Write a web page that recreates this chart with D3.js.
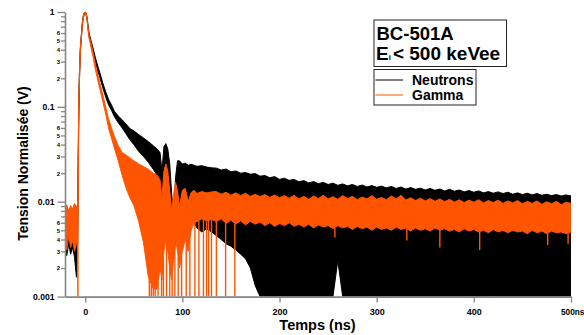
<!DOCTYPE html>
<html><head><meta charset="utf-8">
<script src="https://cdn.jsdelivr.net/npm/d3@7"></script>
<style>
body{margin:0;background:#fff}
svg{display:block}
text{font-family:"Liberation Sans",Arial,Helvetica,sans-serif;font-weight:bold;fill:#000}
</style>
</head><body><svg id="c" width="584" height="335"></svg>
<script>
// ---- data (time in ns, normalised voltage) ----
const times = [
 -21,-19,-17,-15,-13,-11,-9,-8,
 -7.5,-7,-6.5,-6,
 -5,-4,-3,-2,-1,0,1,2,3,4,
 6,8,10,12,
 15,18,21,24,27,30,
 34,38,42,46,50,
 55,60,65,70,
 74,77,79,81,83,85,87,89,91,93,95,97,
 100,103,106,109,112,115,
 120,125,130,
 135,140,145,150,155,160,165,170,175,180,185,190,195,200,205,210,215,220,225,230,235,240,245,250,255,
 260,265,270,275,280,285,290,295,300,305,310,315,320,325,330,335,340,345,350,355,360,365,370,375,380,
 385,390,395,400,405,410,415,420,425,430,435,440,445,450,455,460,465,470,475,480,485,490,495,500
];
const neutronHigh = [
 .0080,.0089,.0076,.0087,.0081,.0091,.0085,.0090,
 .012,.05,.13,.22,
 .42,.57,.77,.91,.985,1.0,.975,.87,.71,.60,
 .50,.42,.345,.29,
 .23,.18,.145,.12,.105,.09,
 .08,.073,.066,.059,.056,
 .051,.047,.043,.039,
 .036,.033,.021,.038,.041,.036,.025,.012,.0075,.018,.027,.027,
 .025,.0255,.0242,.0248,.0242,.0236,
 .024,.0232,.0228,
 .0226,.0216,.0221,.0207,.0211,.0200,.0203,.0195,.0198,.0186,.0189,.0179,.0184,.0172,.0177,.0168,.0172,.0162,.0167,.0158,.0163,.0155,.0160,.0152,.0157,
 .0149,.0154,.0147,.0152,.0145,.0150,.0143,.0148,.0142,.0146,.0140,.0145,.0138,.0143,.0136,.0141,.0135,.0139,.0133,.0138,.0132,.0136,.0130,.0135,.0129,
 .0133,.0127,.0131,.0126,.0130,.0124,.0128,.0123,.0127,.0122,.0126,.0120,.0124,.0119,.0123,.0118,.0122,.0117,.0120,.0116,.0119,.0115,.0118,.0115
];
const neutronLow = [
 .0030,.0027,.0036,.0028,.0033,.0026,.0016,.0035,
 .006,.035,.1,.18,
 .38,.52,.72,.86,.95,.97,.93,.82,.66,.55,
 .45,.38,.31,.26,
 .205,.16,.128,.105,.092,.079,
 .068,.06,.052,.045,.040,
 .034,.030,.026,.022,
 .019,.016,.007,.014,.018,.014,.007,.003,.0025,.004,.006,.007,
 .0082,.0076,.0072,.0068,.006,.0053,
 .0048,.0052,.0048,
 .0044,.0040,.0036,.0034,.0031,.0028,.0025,.0020,.0013,.001,.001,.001,.001,.001,.001,.001,.001,.001,.001,.001,.001,.001,.001,.001,.001,
 .0024,.001,.001,.001,.001,.001,.001,.001,.001,.001,.001,.001,.001,.001,.001,.001,.001,.001,.001,.001,.001,.001,.001,.001,.001,
 .001,.001,.001,.001,.001,.001,.001,.001,.001,.001,.001,.001,.001,.001,.001,.001,.001,.001,.001,.001,.001,.001,.001,.001
];
const gammaHigh = [
 .0085,.0093,.0079,.0091,.0084,.0096,.0088,.0092,
 .012,.05,.13,.22,
 .42,.56,.76,.90,.98,1.0,.97,.85,.68,.57,
 .47,.38,.30,.24,
 .18,.135,.10,.075,.06,.049,
 .039,.033,.031,.029,.027,
 .025,.0235,.022,.020,
 .019,.017,.011,.021,.025,.021,.013,.008,.012,.016,.013,.009,
 .0132,.0138,.010,.0125,.0132,.0122,
 .0128,.0124,.0127,
 .0128,.0120,.0126,.0117,.0124,.0116,.0123,.0114,.0120,.0113,.0119,.0111,.0118,.0110,.0116,.0109,.0117,.0107,.0114,.0106,.0115,.0108,.0117,.0107,.0113,
 .0106,.0116,.0108,.0114,.0105,.0112,.0107,.0116,.0106,.0111,.0105,.0115,.0107,.0117,.0104,.0110,.0103,.0109,.0102,.0108,.0101,.0107,.0100,.0106,.0099,
 .0105,.0098,.0104,.0099,.0105,.0097,.0103,.0098,.0104,.0096,.0102,.0097,.0103,.0095,.0101,.0096,.0102,.0094,.0100,.0095,.0101,.0093,.0099,.0096
];
const gammaLow = [
 .0040,.0031,.0044,.0033,.0039,.0030,.0036,.0040,
 .001,.03,.1,.18,
 .38,.52,.72,.86,.95,.97,.92,.80,.63,.53,
 .42,.34,.26,.21,
 .155,.115,.085,.06,.047,.037,
 .027,.019,.014,.011,.0092,
 .0062,.0037,.0016,.0012,
 .0012,.002,.0015,.003,.004,.003,.002,.0015,.0025,.004,.003,.002,
 .003,.004,.003,.005,.006,.0062,
 .0066,.0063,.0065,
 .0062,.0066,.0059,.0064,.0058,.0063,.0057,.0062,.0058,.0061,.0056,.0060,.0055,.0059,.0056,.0060,.0055,.0058,.0054,.0058,.0053,.0057,.0054,.0056,.0052,
 .0056,.0053,.0055,.0051,.0055,.0052,.0054,.0050,.0054,.0051,.0053,.0050,.0054,.0051,.0053,.0049,.0053,.0050,.0052,.0049,.0053,.0050,.0052,.0049,.0051,
 .0048,.0052,.0049,.0051,.0048,.0050,.0047,.0051,.0048,.0050,.0047,.0050,.0048,.0049,.0046,.0050,.0047,.0049,.0046,.0049,.0047,.0048,.0046,.0048
];
// downward noise spikes of the gamma trace (time, lowest value reached)
const gammaDipTimes = [66,68,70,72,75,78.6,80.5,83.7,87,89.5,92.3,95.7,99.2,104,107.7,112.9,117,121.7,124.9,127,130,135,144.5,154,257,331,365,406,476,497];
const gammaDipLows  = [.001,.001,.001,.001,.001,.001,.001,.001,.001,.001,.001,.001,.001,.001,.001,.001,.001,.001,.001,.001,.001,.001,.001,.001,.0042,.0039,.0033,.0031,.0035,.0036];
// axis ticks
const yMajorTicks = [0.001,0.01,0.1,1];
const yMajorLabels = ["0.001","0.01","0.1","1"];
const yMinorDigits = [2,3,4,5,6,7,8,9];
const xTicks = [0,100,200,300,400,500];
const xTickLabels = ["0","100","200","300","400","500ns"];
const seriesNames = ["Neutrons","Gamma"];

// ---- drawing ----
const ORANGE = "#ff5500", AXIS = "#858585";
const svg = d3.select("#c");
const x = d3.scaleLinear().domain([-20.8,500]).range([65,571]);
const y = d3.scaleLog().domain([0.001,1]).range([296.6,12]);

svg.append("defs").append("clipPath").attr("id","plot")
  .append("rect").attr("x",65).attr("y",8).attr("width",506).attr("height",288.6);
const g = svg.append("g").attr("clip-path","url(#plot)");

const n = Math.min(times.length, neutronHigh.length, neutronLow.length, gammaHigh.length, gammaLow.length);
const band = (hi,lo) => d3.range(n).map(i => ({t:times[i], hi:hi[i], lo:lo[i]}));
const area = d3.area().x(d=>x(d.t)).y0(d=>y(d.lo)).y1(d=>y(d.hi));

g.append("path").datum(band(neutronHigh,neutronLow)).attr("d",area)
  .attr("fill","#000").attr("stroke","#000").attr("stroke-width",1).attr("stroke-linejoin","round");
g.append("path").datum(band(gammaHigh,gammaLow)).attr("d",area)
  .attr("fill",ORANGE).attr("stroke",ORANGE).attr("stroke-width",1).attr("stroke-linejoin","round");

function gammaLowAt(t){
  const i = Math.max(1, Math.min(n-1, d3.bisectLeft(times, t)));
  const t0 = times[i-1], t1 = times[i], f = (t - t0)/(t1 - t0);
  return Math.exp(Math.log(gammaLow[i-1])*(1-f) + Math.log(gammaLow[i])*f);
}
g.selectAll("line.dip").data(d3.zip(gammaDipTimes, gammaDipLows)).join("line")
  .attr("class","dip")
  .attr("x1",d=>x(d[0])).attr("x2",d=>x(d[0]))
  .attr("y1",d=>y(gammaLowAt(d[0]))).attr("y2",d=>y(d[1]))
  .attr("stroke",ORANGE).attr("stroke-width",1.4);

// y axis
const minorTicks = [];
yMajorTicks.slice(0,3).forEach(m => yMinorDigits.forEach(k => minorTicks.push(m*k)));
const yMinor = svg.append("g").attr("transform","translate(65,0)")
  .call(d3.axisLeft(y).tickValues(minorTicks).tickSize(4).tickPadding(0.8).tickSizeOuter(0)
    .tickFormat(d => { const k = Math.round(d / Math.pow(10, Math.floor(Math.log10(d)+1e-9))); return k<=6 ? String(k) : ""; }));
yMinor.select(".domain").remove();
yMinor.selectAll("text").attr("font-size",6).attr("font-family",null);
const yMajor = svg.append("g").attr("transform","translate(65,0)")
  .call(d3.axisLeft(y).tickValues(yMajorTicks).tickSize(7.5).tickPadding(3).tickSizeOuter(0)
    .tickFormat((d,i)=>yMajorLabels[i]));
yMajor.selectAll("text").attr("font-size",8.6).attr("font-family",null);

// x axis
const xAx = svg.append("g").attr("transform","translate(0,296.6)")
  .call(d3.axisBottom(x).tickValues(xTicks).tickSize(6).tickPadding(6.5).tickSizeOuter(0)
    .tickFormat((d,i)=>xTickLabels[i]));
xAx.selectAll("text").attr("font-size",9).attr("font-family",null)
  .filter((d,i)=>i===xTicks.length-1)
  .attr("text-anchor","start").attr("x",-10.6).attr("font-size",8.3);

[yMinor,yMajor,xAx].forEach(a=>{
  a.selectAll(".domain").attr("stroke",AXIS).attr("stroke-width",1.6);
  a.selectAll(".tick line").attr("stroke",AXIS).attr("stroke-width",1.3);
});

// axis titles
svg.append("text").attr("x",317.5).attr("y",329.5).attr("text-anchor","middle")
  .attr("font-size",14.5).text("Temps (ns)");
svg.append("text").attr("transform","translate(27.5,163.5) rotate(-90)").attr("text-anchor","middle")
  .attr("font-size",14).text("Tension Normalisée (V)");

// annotation box
svg.append("rect").attr("x",374).attr("y",20).attr("width",132.5).attr("height",46.5)
  .attr("fill","#fff").attr("stroke","#222").attr("stroke-width",1);
svg.append("text").attr("x",376.5).attr("y",39.5).attr("font-size",18.5).text("BC-501A");
const t2 = svg.append("text").attr("x",376).attr("y",59.5).attr("font-size",19);
t2.append("tspan").text("E");
t2.append("tspan").attr("font-size",8).text("i");
t2.append("tspan").attr("dx",2).text("< 500 keVee");

// legend
svg.append("rect").attr("x",374).attr("y",69.5).attr("width",102).attr("height",35.5)
  .attr("fill","#fff").attr("stroke","#222").attr("stroke-width",1);
const legendColors = ["#000", ORANGE];
seriesNames.forEach((s,i)=>{
  const yy = 80 + i*15;
  svg.append("line").attr("x1",375.5).attr("x2",403).attr("y1",yy).attr("y2",yy)
    .attr("stroke",legendColors[i]).attr("stroke-width",1);
  svg.append("text").attr("x",412).attr("y",yy+4.6).attr("font-size",14).text(s);
});
</script>
</body></html>
